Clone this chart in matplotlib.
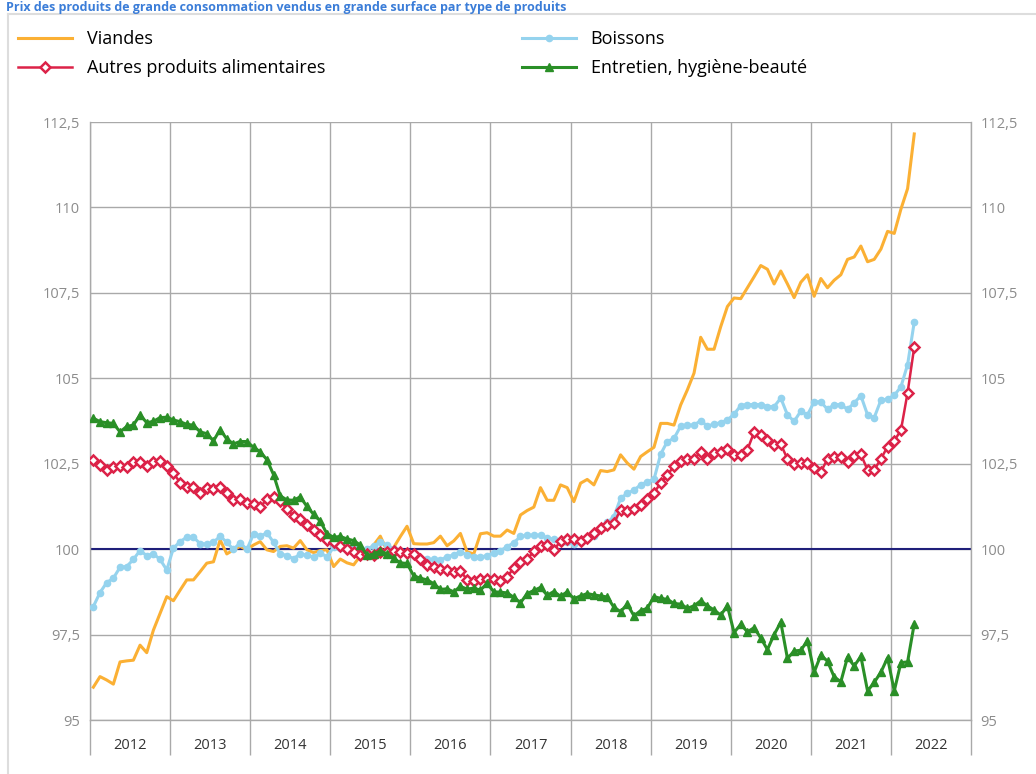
import numpy as np
import matplotlib
matplotlib.use("Agg")
from matplotlib import pyplot as plt
from matplotlib.lines import Line2D

plt.rcParams['font.family'] = ['Open Sans', 'DejaVu Sans']

# monthly index values, Jan 2012 -> Apr 2022 (base 100 = 2015)
viandes = [95.96, 96.27, 96.17, 96.05, 96.70, 96.73, 96.75, 97.19, 96.97, 97.63, 98.12, 98.61,
           98.49, 98.80, 99.10, 99.10, 99.34, 99.59, 99.63, 100.27, 99.86, 99.98, 100.08, 99.98,
           100.12, 100.22, 99.98, 99.93, 100.08, 100.10, 100.03, 100.25, 99.98, 99.90, 99.96, 99.98,
           99.49, 99.71, 99.60, 99.54, 99.80, 99.93, 100.12, 100.38, 99.95, 100.05, 100.37, 100.67,
           100.16, 100.15, 100.15, 100.19, 100.38, 100.10, 100.24, 100.46, 99.92, 99.86, 100.45, 100.48,
           100.38, 100.38, 100.56, 100.46, 101.00, 101.13, 101.23, 101.80, 101.43, 101.43, 101.88, 101.80,
           101.39, 101.93, 102.04, 101.88, 102.30, 102.27, 102.32, 102.76, 102.52, 102.34, 102.71, 102.85,
           102.98, 103.68, 103.68, 103.63, 104.22, 104.66, 105.15, 106.20, 105.85, 105.85, 106.51, 107.10,
           107.35, 107.33, 107.65, 107.97, 108.30, 108.19, 107.76, 108.14, 107.76, 107.36, 107.81, 108.03,
           107.40, 107.92, 107.65, 107.87, 108.03, 108.48, 108.55, 108.87, 108.41, 108.48, 108.78, 109.30,
           109.24, 109.95, 110.55, 112.15]

boissons = [98.32, 98.73, 99.02, 99.15, 99.47, 99.49, 99.70, 99.96, 99.81, 99.86, 99.70, 99.39,
            100.03, 100.22, 100.35, 100.35, 100.16, 100.15, 100.20, 100.38, 100.20, 99.99, 100.19, 99.99,
            100.44, 100.37, 100.48, 100.20, 99.87, 99.81, 99.72, 99.86, 99.82, 99.76, 99.88, 99.78,
            100.05, 100.03, 100.07, 100.05, 99.95, 100.00, 100.10, 100.20, 100.12, 100.00, 99.95, 99.90,
            99.85, 99.75, 99.70, 99.70, 99.68, 99.78, 99.83, 99.93, 99.83, 99.78, 99.78, 99.80,
            99.90, 99.96, 100.07, 100.19, 100.37, 100.41, 100.41, 100.41, 100.32, 100.29, 100.22, 100.20,
            100.15, 100.27, 100.29, 100.37, 100.66, 100.78, 100.95, 101.49, 101.63, 101.73, 101.88, 101.97,
            102.04, 102.78, 103.15, 103.24, 103.60, 103.63, 103.63, 103.76, 103.60, 103.66, 103.70, 103.78,
            103.95, 104.20, 104.23, 104.23, 104.23, 104.17, 104.17, 104.42, 103.93, 103.74, 104.04, 103.93,
            104.31, 104.31, 104.09, 104.23, 104.23, 104.09, 104.28, 104.49, 103.93, 103.85, 104.36, 104.39,
            104.50, 104.75, 105.40, 106.65]

autres = [102.61, 102.46, 102.32, 102.40, 102.43, 102.40, 102.56, 102.56, 102.43, 102.56, 102.59, 102.43,
          102.22, 101.95, 101.83, 101.81, 101.65, 101.78, 101.75, 101.81, 101.65, 101.44, 101.46, 101.36,
          101.32, 101.23, 101.46, 101.52, 101.40, 101.18, 100.96, 100.87, 100.70, 100.57, 100.42, 100.27,
          100.21, 100.10, 100.00, 99.91, 99.84, 99.86, 99.84, 99.91, 99.93, 99.95, 99.93, 99.90,
          99.85, 99.70, 99.55, 99.47, 99.43, 99.40, 99.33, 99.36, 99.11, 99.06, 99.14, 99.12,
          99.13, 99.07, 99.19, 99.45, 99.63, 99.70, 99.94, 100.10, 100.13, 99.98, 100.23, 100.30,
          100.29, 100.25, 100.34, 100.48, 100.61, 100.70, 100.77, 101.15, 101.13, 101.17, 101.29, 101.46,
          101.65, 101.93, 102.17, 102.43, 102.59, 102.63, 102.63, 102.85, 102.63, 102.81, 102.85, 102.92,
          102.75, 102.75, 102.91, 103.42, 103.34, 103.18, 103.05, 103.07, 102.64, 102.48, 102.53, 102.53,
          102.37, 102.26, 102.64, 102.69, 102.69, 102.55, 102.73, 102.77, 102.32, 102.32, 102.64, 103.00,
          103.17, 103.48, 104.58, 105.92]

entretien = [103.83, 103.73, 103.70, 103.68, 103.43, 103.59, 103.63, 103.93, 103.70, 103.74, 103.85, 103.86,
             103.78, 103.73, 103.65, 103.63, 103.43, 103.38, 103.17, 103.50, 103.22, 103.08, 103.15, 103.15,
             102.98, 102.85, 102.62, 102.18, 101.56, 101.44, 101.43, 101.53, 101.25, 101.02, 100.82, 100.45,
             100.35, 100.37, 100.30, 100.25, 100.12, 99.82, 99.85, 99.95, 99.86, 99.73, 99.60, 99.58,
             99.22, 99.15, 99.10, 98.99, 98.82, 98.84, 98.75, 98.91, 98.83, 98.86, 98.80, 99.00,
             98.75, 98.74, 98.72, 98.59, 98.43, 98.70, 98.79, 98.88, 98.65, 98.76, 98.62, 98.75,
             98.55, 98.63, 98.70, 98.66, 98.63, 98.60, 98.30, 98.17, 98.39, 98.05, 98.20, 98.27,
             98.61, 98.56, 98.53, 98.41, 98.39, 98.27, 98.34, 98.49, 98.34, 98.22, 98.07, 98.34,
             97.56, 97.80, 97.58, 97.70, 97.40, 97.06, 97.50, 97.86, 96.80, 97.02, 97.04, 97.32,
             96.40, 96.90, 96.72, 96.26, 96.12, 96.84, 96.58, 96.86, 95.85, 96.10, 96.40, 96.82,
             95.85, 96.68, 96.70, 97.82]

years = ['2012', '2013', '2014', '2015', '2016', '2017', '2018', '2019', '2020', '2021', '2022']
yticks = [95, 97.5, 100, 102.5, 105, 107.5, 110, 112.5]
ylabels = ['95', '97,5', '100', '102,5', '105', '107,5', '110', '112,5']

grid_col = '#a9a9a9'
lab_col = '#8c8c8c'

fig = plt.figure(figsize=(10.36, 7.74), dpi=100)
ax = fig.add_axes([90 / 1036, 1 - 720 / 774, 881 / 1036, 598 / 774])

x = np.arange(len(viandes)) + 0.5

l1, = ax.plot(x, viandes, color='#fbb034', lw=2.2, zorder=3)
l2, = ax.plot(x, boissons, color='#95d3ee', lw=2.2, marker='o', ms=4.5, zorder=4)
l3, = ax.plot(x, autres, color='#dc2248', lw=1.8, marker='D', ms=5.2, mfc='white', mew=1.8, zorder=5)
l4, = ax.plot(x, entretien, color='#2a8f27', lw=2.2, marker='^', ms=6, zorder=6)

ax.axhline(100, color='#1f1f7a', lw=1.5, zorder=2.5)

ax.set_xlim(0, 132)
ax.set_ylim(95, 112.5)

# year separators extend below the axis
ax.set_xticks(np.arange(0, 133, 12))
ax.set_xticklabels([])
ax.set_xticks(np.arange(6, 132, 12), minor=True)
ax.set_xticklabels(years, minor=True)
ax.tick_params(axis='x', which='major', length=25, width=1, color=grid_col, direction='out')
ax.tick_params(axis='x', which='minor', length=0, pad=13, labelsize=10.5, labelcolor='#333333')

ax.set_yticks(yticks)
ax.set_yticklabels(ylabels)
ax.tick_params(axis='y', length=0, labelsize=10.5, labelcolor=lab_col, pad=7,
               labelleft=True, labelright=True)

ax.grid(True, which='major', color=grid_col, lw=1)
ax.set_axisbelow(True)

for side in ['left', 'right', 'bottom']:
    ax.spines[side].set_color(grid_col)
    ax.spines[side].set_linewidth(1)
ax.spines['top'].set_visible(False)

# legend, two columns across the top
fig.legend([l1, l3, l2, l4],
           ['Viandes', 'Autres produits alimentaires', 'Boissons', 'Entretien, hygiène-beauté'],
           loc='upper left', bbox_to_anchor=(2 / 1036, 1 - 14 / 774), ncol=2, frameon=False,
           fontsize=13, handlelength=3, handletextpad=0.8, labelspacing=0.62, columnspacing=10.9)

# light frame around the chart
fig.add_artist(Line2D([8 / 1036, 1], [1 - 14 / 774, 1 - 14 / 774], color='#dddddd', lw=1.5))
fig.add_artist(Line2D([8 / 1036, 8 / 1036], [0, 1 - 14 / 774], color='#dddddd', lw=1.5))

# title strip above the frame
fig.text(6 / 1036, 1 - 1 / 774,
         'Prix des produits de grande consommation vendus en grande surface par type de produits',
         color='#3b7dd8', fontsize=9, fontweight='bold', va='top', ha='left')

fig.savefig('out.png', dpi=100)
